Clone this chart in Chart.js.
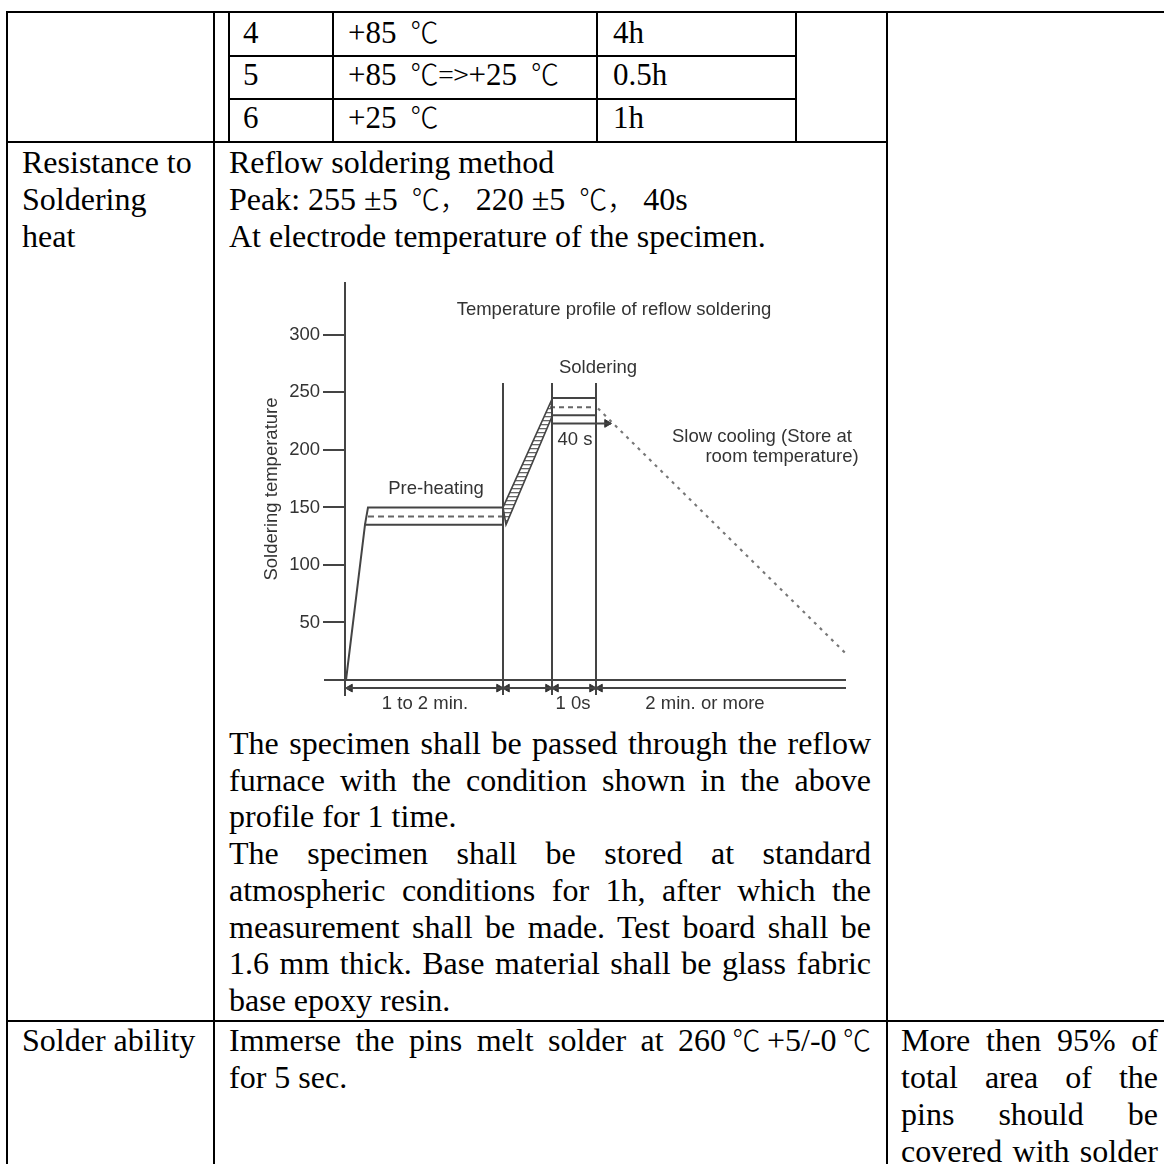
<!DOCTYPE html>
<html>
<head>
<meta charset="utf-8">
<script src="https://cdn.jsdelivr.net/npm/chart.js@4.4.0/dist/chart.umd.min.js"></script>
<style>
  body { margin: 0; background: #fff; width: 1164px; height: 1164px; overflow: hidden; position: relative;
         font-family: "Liberation Serif", "Times New Roman", serif; font-size: 32px; color: #000; }
  .h { position: absolute; height: 2px; background: #000; }
  .v { position: absolute; width: 2px; background: #000; }
  .t { position: absolute; line-height: 37px; white-space: nowrap; }
  .s { font-size: 31px; }
  .p { position: absolute; }
  .j { text-align: justify; text-align-last: justify; }
  .cjk { font-family: "Noto Sans CJK SC", sans-serif; font-size: 28px; font-weight: 300; line-height: 0; }
  #chart { position: absolute; left: 0; top: 0; width: 1164px; height: 1164px; }
</style>
</head>
<body>

<!-- table rules -->
<div class="h" style="left:6px;top:11px;width:1158px"></div>
<div class="v" style="left:6px;top:11px;height:1153px"></div>
<div class="v" style="left:213px;top:11px;height:1153px"></div>
<div class="v" style="left:886px;top:11px;height:1153px"></div>
<div class="v" style="left:228px;top:11px;height:132px"></div>
<div class="v" style="left:332px;top:11px;height:132px"></div>
<div class="v" style="left:596px;top:11px;height:132px"></div>
<div class="v" style="left:795px;top:11px;height:132px"></div>
<div class="h" style="left:228px;top:55px;width:569px"></div>
<div class="h" style="left:228px;top:98px;width:569px"></div>
<div class="h" style="left:6px;top:141px;width:882px"></div>
<div class="h" style="left:6px;top:1020px;width:1158px"></div>

<!-- small step table -->
<div class="t s" style="left:243px;top:14px">4</div>
<div class="t s" style="left:348px;top:14px">+85<span class="cjk">&ensp;℃</span></div>
<div class="t s" style="left:613px;top:14px">4h</div>
<div class="t s" style="left:243px;top:56px">5</div>
<div class="t s" style="left:348px;top:56px">+85<span class="cjk">&ensp;℃=&gt;</span>+25<span class="cjk">&ensp;℃</span></div>
<div class="t s" style="left:613px;top:56px">0.5h</div>
<div class="t s" style="left:243px;top:99px">6</div>
<div class="t s" style="left:348px;top:99px">+25<span class="cjk">&ensp;℃</span></div>
<div class="t s" style="left:613px;top:99px">1h</div>

<!-- resistance to soldering heat -->
<div class="t" style="left:22px;top:144px">Resistance to<br>Soldering<br>heat</div>
<div class="t" style="left:229px;top:144px">Reflow soldering method<br>Peak: 255 ±5<span class="cjk">&ensp;℃，</span> 220 ±5<span class="cjk">&ensp;℃，</span> 40s<br>At electrode temperature of the specimen.</div>

<div class="p" style="left:229px;top:725px;width:642px;line-height:36.7px">
  <div class="j">The specimen shall be passed through the reflow</div>
  <div class="j">furnace with the condition shown in the above</div>
  <div>profile for 1 time.</div>
  <div class="j">The specimen shall be stored at standard</div>
  <div class="j">atmospheric conditions for 1h, after which the</div>
  <div class="j">measurement shall be made. Test board shall be</div>
  <div class="j">1.6 mm thick. Base material shall be glass fabric</div>
  <div>base epoxy resin.</div>
</div>

<!-- solder ability -->
<div class="t" style="left:22px;top:1022px">Solder ability</div>
<div class="p" style="left:229px;top:1022px;width:642px;line-height:37px">
  <div class="j">Immerse the pins melt solder at 260<span class="cjk">℃</span>+5/-0<span class="cjk">℃</span></div>
  <div>for 5 sec.</div>
</div>
<div class="p" style="left:901px;top:1022px;width:257px;line-height:37px">
  <div class="j">More then 95% of</div>
  <div class="j">total area of the</div>
  <div class="j">pins should be</div>
  <div class="j">covered with solder</div>
</div>

<canvas id="chart" width="1164" height="1164"></canvas>

<script>
// temperature ticks (°C)
var tempTicks = [50, 100, 150, 200, 250, 300];

// x = time in chart units (no scale printed), y = temperature °C
var baseline = [{x: -21, y: 0}, {x: 501, y: 0}];
var dimLine = [{x: 0, y: -7}, {x: 501, y: -7}];
var zoneX = [158, 207, 251];
var zoneTop = 258, zoneBottom = -13;

var preheatLow = [{x: 1, y: 0}, {x: 20, y: 135}, {x: 158, y: 135}];
var preheatHigh = [{x: 20, y: 135}, {x: 23, y: 150}, {x: 158, y: 150}];
var preheatMid = [{x: 23, y: 142}, {x: 158, y: 142}];
var rampBand = [{x: 158, y: 150}, {x: 207, y: 244}, {x: 207, y: 229}, {x: 161, y: 135}, {x: 158, y: 150}];
var solderTop = [{x: 207, y: 245}, {x: 251, y: 245}];
var solderMid = [{x: 205, y: 237}, {x: 251, y: 237}];
var solderLow = [{x: 207, y: 230}, {x: 251, y: 230}];
var hold40s = [{x: 207, y: 223}, {x: 266, y: 223}];
var cooling = [{x: 253, y: 236}, {x: 502, y: 22}];

// arrow heads on the time dimension line
var dimTipsX = [5, 154, 162, 203, 211, 247, 255];
var dimTipsDir = ['L', 'R', 'L', 'R', 'L', 'R', 'L'];
var dimY = -7;
var holdTip = [{x: 262, y: 223}];

var notes = [
  {text: 'Temperature profile of reflow soldering', x: 269, y: 322},
  {text: 'Soldering', x: 253, y: 271},
  {text: 'Pre-heating', x: 91, y: 166},
  {text: '40 s', x: 230, y: 209},
  {text: 'Slow cooling (Store at', x: 417, y: 211},
  {text: 'room temperature)', x: 437, y: 194},
  {text: '1 to 2 min.', x: 80, y: -21},
  {text: '1 0s', x: 228, y: -21},
  {text: '2 min. or more', x: 360, y: -21}
];

var textColor = '#333';
var inkColor = '#444';
var chartFont = '"Liberation Sans", Arial, sans-serif';

function hatch() {
  var c = document.createElement('canvas');
  c.width = 4; c.height = 4;
  var g = c.getContext('2d');
  g.fillStyle = '#666';
  g.fillRect(0, 0, 4, 1.3);
  return g.createPattern(c, 'repeat');
}

function line(data, extra) {
  return Object.assign({
    data: data,
    showLine: true,
    pointRadius: 0,
    borderColor: inkColor,
    borderWidth: 2,
    fill: false,
    clip: false
  }, extra || {});
}

var datasets = [
  line(baseline),
  line(dimLine)
];
zoneX.forEach(function(x) {
  datasets.push(line([{x: x, y: zoneBottom}, {x: x, y: zoneTop}]));
});
datasets.push(
  line(preheatLow),
  line(preheatHigh),
  line(preheatMid, {borderDash: [6, 4], borderColor: '#666'}),
  line(rampBand, {fill: 'shape', backgroundColor: hatch(), borderWidth: 1.6}),
  line(solderTop),
  line(solderMid, {borderDash: [5, 4], borderColor: '#666'}),
  line(solderLow),
  line(hold40s),
  line(cooling, {borderDash: [3, 5], borderColor: '#777', borderWidth: 2.2}),
  {
    data: dimTipsX.map(function(x) { return {x: x, y: dimY}; }),
    showLine: false,
    pointStyle: 'triangle',
    pointRadius: 4.5,
    pointRotation: function(ctx) { return dimTipsDir[ctx.dataIndex] === 'L' ? -90 : 90; },
    pointBackgroundColor: '#333',
    pointBorderColor: '#333',
    pointBorderWidth: 1,
    clip: false
  },
  {
    data: holdTip,
    showLine: false,
    pointStyle: 'triangle',
    pointRadius: 4.5,
    pointRotation: 90,
    pointBackgroundColor: '#333',
    pointBorderColor: '#333',
    pointBorderWidth: 1,
    clip: false
  }
);

var notePlugin = {
  id: 'notes',
  afterDraw: function(chart) {
    var ctx = chart.ctx, x = chart.scales.x, y = chart.scales.y;
    ctx.save();
    ctx.font = '18.5px ' + chartFont;
    ctx.fillStyle = textColor;
    ctx.textAlign = 'center';
    ctx.textBaseline = 'middle';
    notes.forEach(function(n) {
      ctx.fillText(n.text, x.getPixelForValue(n.x), y.getPixelForValue(n.y));
    });
    ctx.restore();
  }
};

var ctx = document.getElementById('chart').getContext('2d');
var chart = new Chart(ctx, {
  type: 'scatter',
  data: { datasets: datasets },
  options: {
    responsive: false,
    animation: false,
    events: [],
    layout: { padding: { left: 257, top: 283, right: 318, bottom: 469 } },
    plugins: { legend: { display: false }, tooltip: { enabled: false } },
    scales: {
      x: { type: 'linear', min: 0, max: 501, display: false },
      y: {
        type: 'linear',
        min: -13,
        max: 345,
        afterFit: function(axis) { axis.width = 88; },
        afterBuildTicks: function(axis) {
          axis.ticks = tempTicks.map(function(v) { return {value: v}; });
        },
        grid: { display: true, drawOnChartArea: false, drawTicks: true, tickLength: 22, color: inkColor, lineWidth: 2 },
        border: { display: true, color: inkColor, width: 2 },
        ticks: { color: textColor, padding: 3, font: { family: chartFont, size: 18.5 } },
        title: {
          display: true,
          text: 'Soldering temperature',
          color: textColor,
          padding: { top: 4, bottom: 0 },
          font: { family: chartFont, size: 18.5 }
        }
      }
    }
  },
  plugins: [notePlugin]
});
</script>
</body>
</html>
